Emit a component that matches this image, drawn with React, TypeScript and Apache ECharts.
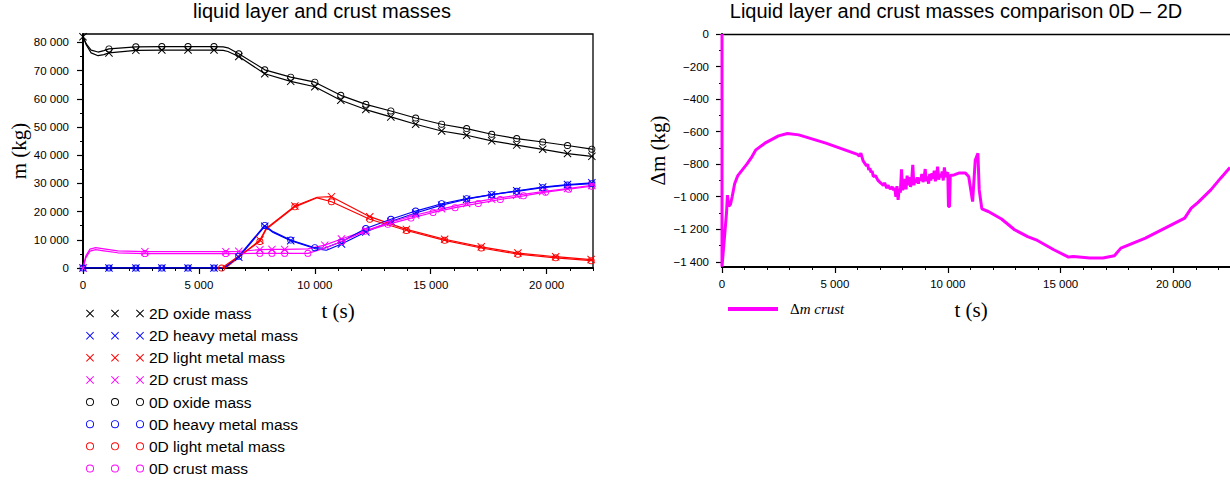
import React, { useEffect, useRef } from "react";
import * as echarts from "echarts";

// ---------- Left chart data: masses (kg) vs time t (s) ----------
// "Marks" are the sampled points drawn with a marker, "Bends" are extra curve vertices.
const oxide2DMarks = [[0, 82000], [1120, 76300], [2280, 77200], [3400, 77300], [4530, 77300], [5650, 77300], [6720, 75000], [7840, 68900], [8960, 66200], [10000, 64300], [11120, 59500], [12200, 56200], [13280, 53600], [14350, 51000], [15470, 48600], [16550, 47100], [17630, 45100], [18710, 43600], [19830, 42100], [20900, 40600], [21950, 39600]];
const oxide2DBends = [[150, 79000], [350, 76300], [650, 75300], [900, 75700], [6050, 77200], [6250, 76800], [22000, 39500]];

const oxide0DMarks = [[1120, 77700], [2280, 78450], [3400, 78550], [4530, 78550], [5650, 78550], [6720, 76000], [7840, 70300], [8960, 67700], [10000, 65900], [11120, 61250], [12200, 58050], [13280, 55700], [14350, 53200], [15470, 51000], [16550, 49450], [17630, 47450], [18710, 45900], [19830, 44700], [20900, 43450], [21950, 42150]];
const oxide0DBends = [[0, 82000], [150, 79400], [350, 77300], [650, 76600], [900, 77100], [6050, 78450], [6250, 78100], [22000, 42100]];

const heavy2DMarks = [[0, 0], [1120, 0], [2280, 0], [3400, 0], [4530, 0], [5650, 0], [6720, 3800], [7840, 14800], [8960, 9700], [11150, 8500], [12200, 12800], [13280, 16500], [14350, 19500], [15470, 22300], [16550, 24400], [17630, 26000], [18710, 27400], [19830, 28700], [20900, 29600], [21950, 30200]];
const heavy2DBends = [[6050, 0], [8200, 12600], [10000, 6900], [10500, 6300], [22000, 30200]];

const heavy0DMarks = [[0, 0], [1120, 0], [2280, 0], [3400, 0], [4530, 0], [5650, 0], [6720, 4200], [7840, 15100], [8960, 9900], [10000, 7200], [11150, 9300], [12200, 14000], [13280, 17300], [14350, 20200], [15470, 22800], [16550, 24600], [17630, 26000], [18710, 27200], [19830, 28500], [20900, 29400], [21950, 29900]];
const heavy0DBends = [[6100, 0], [8200, 12900], [10400, 7000], [22000, 29900]];

const light2DMarks = [[7630, 9900], [9140, 22000], [10720, 25300], [12370, 18200], [13950, 13700], [15600, 10200], [17180, 7500], [18760, 5300], [20390, 4000], [21920, 3000]];
const light2DBends = [[6150, 0], [7900, 14000], [10100, 25100], [22000, 2950]];

const light0DMarks = [[5980, 0], [7630, 9400], [9140, 21700], [10720, 23500], [12370, 17300], [13950, 13300], [15600, 9800], [17180, 7100], [18760, 4900], [20390, 3600], [21920, 2600]];
const light0DBends = [[7900, 13700], [10100, 24900], [22000, 2550]];

const crust2DMarks = [[0, 0], [2670, 5800], [6160, 5800], [6720, 5900], [7630, 6500], [8150, 6600], [8700, 6600], [10430, 8100], [11150, 10300], [12200, 13300], [13280, 16300], [14350, 18800], [15470, 21000], [16550, 22900], [17630, 24400], [18710, 25800], [19830, 27100], [20900, 28200], [21950, 29300]];
const crust2DBends = [[120, 4200], [300, 6700], [550, 7200], [900, 6800], [1500, 6100], [9700, 6800], [22000, 29350]];

const crust0DMarks = [[2670, 5100], [6160, 5100], [7630, 5200], [8150, 5200], [8700, 5200], [9700, 5200], [11150, 9400], [12150, 13000], [13150, 15500], [14150, 17700], [15100, 19700], [16050, 21400], [17050, 22900], [18000, 24300], [19000, 25600], [19950, 26900], [20950, 27950], [21950, 29000]];
const crust0DBends = [[0, 0], [120, 3600], [300, 6000], [550, 6500], [900, 6100], [1500, 5400], [10430, 7000], [22000, 29050]];

// ---------- Right chart data: Δm crust (kg) vs t (s) ----------
const deltaCrust = [
  [0, 0], [0, -1430], [200, -1100], [240, -990], [300, -1060], [380, -1045], [450, -1000], [560, -920], [700, -870],
  [900, -835], [1100, -800], [1300, -760], [1500, -712], [1900, -671], [2500, -626], [2900, -612], [3400, -620],
  [4600, -671], [6000, -740], [6080, -750], [6150, -732], [6250, -780], [6400, -810], [6450, -800], [6500, -835],
  [6550, -825], [6600, -850], [6650, -842], [6700, -876], [6800, -870], [6900, -898], [7000, -912],
  [7150, -930], [7200, -915], [7300, -948], [7350, -930], [7450, -952], [7550, -940], [7600, -960], [7650, -945],
  [7700, -1000], [7750, -935], [7800, -1020], [7850, -950], [7900, -975], [7950, -831], [8000, -960], [8050, -935],
  [8100, -890], [8150, -955], [8200, -870], [8250, -930], [8300, -880], [8350, -940], [8400, -900], [8450, -804],
  [8500, -930], [8550, -890], [8600, -915], [8650, -880], [8700, -920], [8750, -885], [8800, -900], [8850, -860],
  [8900, -910], [8950, -885], [9000, -830], [9050, -905], [9100, -875], [9150, -920], [9200, -860], [9250, -900],
  [9300, -855], [9350, -890], [9400, -840], [9450, -905], [9500, -870], [9550, -815], [9600, -895], [9650, -860],
  [9700, -880], [9750, -845], [9800, -900], [9850, -820], [9900, -880], [9950, -860], [10000, -850], [10030, -1060],
  [10080, -1060], [10110, -870], [10275, -866], [10490, -855], [10783, -855], [10926, -876], [11100, -1030],
  [11218, -774], [11335, -733], [11392, -958], [11509, -1075], [11796, -1091], [12380, -1137], [12957, -1203],
  [13537, -1245], [13970, -1269], [14696, -1326], [15348, -1371], [15565, -1367], [16290, -1377], [16870, -1377],
  [17380, -1363], [17666, -1316], [18753, -1254], [19623, -1193], [20493, -1132], [20783, -1070], [21074, -1036],
  [21650, -958], [22085, -886], [22500, -820],
];

// ---------- Tick values ----------
const leftXLabels = [0, 5000, 10000, 15000, 20000];
const leftXMinor = [1000, 2000, 3000, 4000, 6000, 7000, 8000, 9000, 11000, 12000, 13000, 14000, 16000, 17000, 18000, 19000, 21000, 22000];
const leftYLabels = [0, 10000, 20000, 30000, 40000, 50000, 60000, 70000, 80000];
const leftYMinor = [5000, 15000, 25000, 35000, 45000, 55000, 65000, 75000];
const rightXLabels = [0, 5000, 10000, 15000, 20000];
const rightXMinor = [1000, 2000, 3000, 4000, 6000, 7000, 8000, 9000, 11000, 12000, 13000, 14000, 16000, 17000, 18000, 19000, 21000, 22000];
const rightYLabels = [0, -200, -400, -600, -800, -1000, -1200, -1400];
const rightYMinor = [-100, -300, -500, -700, -900, -1100, -1300];

const fmt = (v: number) => {
  const a = Math.round(Math.abs(v)).toString().replace(/\B(?=(\d{3})+(?!\d))/g, " ");
  return (v < 0 ? "\u2212" : "") + a;
};

const xShape = (ox: number) =>
  `M${ox},0.7L${ox + 0.7},0L${ox + 4},3.3L${ox + 7.3},0L${ox + 8},0.7L${ox + 4.7},4L${ox + 8},7.3L${ox + 7.3},8L${ox + 4},4.7L${ox + 0.7},8L${ox},7.3L${ox + 3.3},4Z`;
const ringShape = (cx: number, cy: number, r: number, ri: number) =>
  `M${cx - r},${cy}A${r},${r},0,1,1,${cx + r},${cy}A${r},${r},0,1,1,${cx - r},${cy}Z` +
  `M${cx - ri},${cy}A${ri},${ri},0,1,0,${cx + ri},${cy}A${ri},${ri},0,1,0,${cx - ri},${cy}Z`;

const X_SYMBOL = "path://" + xShape(0);
const O_SYMBOL = "path://" + ringShape(3.5, 3.5, 3.5, 2.6);
const X_LEGEND = "path://" + xShape(0) + xShape(25) + xShape(50);
const O_LEGEND = "path://" + ringShape(4, 4, 4, 3.1) + ringShape(29, 4, 4, 3.1) + ringShape(54, 4, 4, 3.1);

function build(marks: number[][], bends: number[][]) {
  const pts = [
    ...marks.map((p) => ({ p, m: true })),
    ...bends.map((p) => ({ p, m: false })),
  ].sort((a, b) => a.p[0] - b.p[0]);
  return pts.map(({ p, m }) => (m ? { value: p } : { value: p, symbol: "none" }));
}

const BLACK = "#000000";
const BLUE = "#0000ff";
const RED = "#ff0000";
const MAGENTA = "#ff00ff";

const labelFont = { fontFamily: "Liberation Sans", fontSize: 11.5, color: "#000" };
const nameFont = { fontFamily: "Liberation Serif", fontSize: 21, color: "#000" };

function lineSeries(name: string, color: string, marks: number[][], bends: number[][], is2D: boolean) {
  return {
    type: "line",
    name,
    xAxisIndex: 0,
    yAxisIndex: 0,
    data: build(marks, bends),
    symbol: is2D ? X_SYMBOL : O_SYMBOL,
    symbolSize: is2D ? 8 : 7,
    showSymbol: true,
    lineStyle: { color, width: 1.2 },
    itemStyle: { color, borderWidth: 0 },
    emphasis: { disabled: true },
  };
}

export default function App() {
  const ref = useRef<HTMLDivElement>(null);
  useEffect(() => {
    if (!ref.current) return;
    const chart = echarts.init(ref.current, null, { renderer: "svg" });
    const majorAxis = (extra: any) => ({
      type: "value",
      splitLine: { show: false },
      axisLine: { show: true, onZero: false, lineStyle: { color: BLACK, width: 2 } },
      axisTick: { show: true, length: 6, lineStyle: { color: BLACK, width: 1.2 } },
      axisLabel: { ...labelFont, formatter: fmt },
      ...extra,
    });
    const minorAxis = (extra: any) => ({
      type: "value",
      splitLine: { show: false },
      axisLine: { show: false, onZero: false },
      axisLabel: { show: false },
      ...extra,
    });
    const titleStyle = { fontFamily: "Liberation Sans", fontSize: 20, fontWeight: "normal", color: "#000" };
    chart.setOption({
      animation: false,
      backgroundColor: "#fff",
      title: [
        { text: "liquid layer and crust masses", left: 322, top: 1, textAlign: "center", padding: 0, textStyle: titleStyle },
        { text: "Liquid layer and crust masses comparison 0D \u2013 2D", left: 956, top: 1, textAlign: "center", padding: 0, textStyle: titleStyle },
      ],
      legend: [
        {
          orient: "vertical",
          left: 86,
          top: 305.5,
          padding: 0,
          itemWidth: 58,
          itemHeight: 8,
          itemGap: 6.14,
          selectedMode: false,
          itemStyle: { borderWidth: 0 },
          textStyle: { fontFamily: "Liberation Sans", fontSize: 15.5, color: "#000", lineHeight: 16 },
          data: [
            { name: "2D oxide mass", icon: X_LEGEND },
            { name: "2D heavy metal mass", icon: X_LEGEND },
            { name: "2D light metal mass", icon: X_LEGEND },
            { name: "2D crust mass", icon: X_LEGEND },
            { name: "0D oxide mass", icon: O_LEGEND },
            { name: "0D heavy metal mass", icon: O_LEGEND },
            { name: "0D light metal mass", icon: O_LEGEND },
            { name: "0D crust mass", icon: O_LEGEND },
          ],
        },
        {
          left: 728,
          top: 301.5,
          padding: 0,
          itemWidth: 50,
          itemHeight: 4,
          selectedMode: false,
          itemStyle: { borderWidth: 0 },
          formatter: () => "{u|\u0394}{i|m crust}",
          textStyle: {
            color: "#000",
            padding: [0, 0, 0, 7],
            rich: {
              u: { fontFamily: "Liberation Serif", fontSize: 15, color: "#000" },
              i: { fontFamily: "Liberation Serif", fontSize: 15, fontStyle: "italic", color: "#000" },
            },
          },
          data: [{ name: "\u0394m crust", icon: "rect" }],
        },
      ],
      grid: [
        { left: 83, top: 34, width: 510, height: 234, show: true, borderColor: BLACK, borderWidth: 1.3, backgroundColor: "transparent" },
        { left: 722, top: 34, width: 517.5, height: 233, show: false },
      ],
      xAxis: [
        majorAxis({
          gridIndex: 0, position: "bottom", min: 0, max: 22000,
          axisTick: { show: true, length: 6, customValues: leftXLabels, lineStyle: { color: BLACK, width: 1.2 } },
          axisLabel: { ...labelFont, formatter: fmt, margin: 11, customValues: leftXLabels },
          name: "t (s)", nameLocation: "middle", nameGap: 32, nameTextStyle: nameFont,
        }),
        minorAxis({
          gridIndex: 0, position: "bottom", min: 0, max: 22000,
          axisTick: { show: true, length: 3, customValues: leftXMinor, lineStyle: { color: BLACK, width: 1 } },
        }),
        majorAxis({
          gridIndex: 1, position: "bottom", min: 0, max: 22500,
          axisTick: { show: true, length: 6, customValues: rightXLabels, lineStyle: { color: BLACK, width: 1.2 } },
          axisLabel: { ...labelFont, formatter: fmt, margin: 11, customValues: rightXLabels },
          name: "t (s)", nameLocation: "middle", nameGap: 32, nameTextStyle: { ...nameFont, padding: [0, 10, 0, 0] },
        }),
        minorAxis({
          gridIndex: 1, position: "bottom", min: 0, max: 22500,
          axisTick: { show: true, length: 3, customValues: rightXMinor, lineStyle: { color: BLACK, width: 1 } },
        }),
        {
          type: "value", gridIndex: 1, position: "top", min: 0, max: 22500,
          splitLine: { show: false }, axisTick: { show: false }, axisLabel: { show: false },
          axisLine: { show: true, onZero: false, lineStyle: { color: BLACK, width: 1.3 } },
        },
      ],
      yAxis: [
        majorAxis({
          gridIndex: 0, position: "left", min: 0, max: 83000,
          axisTick: { show: true, length: 6, customValues: leftYLabels, lineStyle: { color: BLACK, width: 1.2 } },
          axisLabel: { ...labelFont, formatter: fmt, margin: 14, customValues: leftYLabels },
          name: "m (kg)", nameLocation: "middle", nameGap: 54, nameTextStyle: nameFont,
        }),
        minorAxis({
          gridIndex: 0, position: "left", min: 0, max: 83000,
          axisTick: { show: true, length: 3, customValues: leftYMinor, lineStyle: { color: BLACK, width: 1 } },
        }),
        majorAxis({
          gridIndex: 1, position: "left", min: -1432, max: 0,
          axisLine: { show: true, onZero: false, lineStyle: { color: BLACK, width: 2 } },
          axisTick: { show: true, length: 6, customValues: rightYLabels, lineStyle: { color: BLACK, width: 1.2 } },
          axisLabel: { ...labelFont, formatter: fmt, margin: 13, customValues: rightYLabels },
          name: "\u0394m (kg)", nameLocation: "middle", nameGap: 54, nameTextStyle: nameFont,
        }),
        minorAxis({
          gridIndex: 1, position: "left", min: -1432, max: 0,
          axisTick: { show: true, length: 3, customValues: rightYMinor, lineStyle: { color: BLACK, width: 1 } },
        }),
      ],
      series: [
        lineSeries("2D oxide mass", BLACK, oxide2DMarks, oxide2DBends, true),
        lineSeries("2D heavy metal mass", BLUE, heavy2DMarks, heavy2DBends, true),
        lineSeries("2D light metal mass", RED, light2DMarks, light2DBends, true),
        lineSeries("2D crust mass", MAGENTA, crust2DMarks, crust2DBends, true),
        lineSeries("0D oxide mass", BLACK, oxide0DMarks, oxide0DBends, false),
        lineSeries("0D heavy metal mass", BLUE, heavy0DMarks, heavy0DBends, false),
        lineSeries("0D light metal mass", RED, light0DMarks, light0DBends, false),
        lineSeries("0D crust mass", MAGENTA, crust0DMarks, crust0DBends, false),
        {
          type: "line",
          name: "\u0394m crust",
          xAxisIndex: 2,
          yAxisIndex: 2,
          data: deltaCrust,
          symbol: "none",
          showSymbol: false,
          clip: false,
          z: 5,
          lineStyle: { color: MAGENTA, width: 3 },
          itemStyle: { color: MAGENTA },
          emphasis: { disabled: true },
        },
      ],
    });
    return () => chart.dispose();
  }, []);
  return (
    <div
      ref={ref}
      style={{ position: "absolute", left: 0, top: 0, width: 1230, height: 484, background: "#fff" }}
    />
  );
}
